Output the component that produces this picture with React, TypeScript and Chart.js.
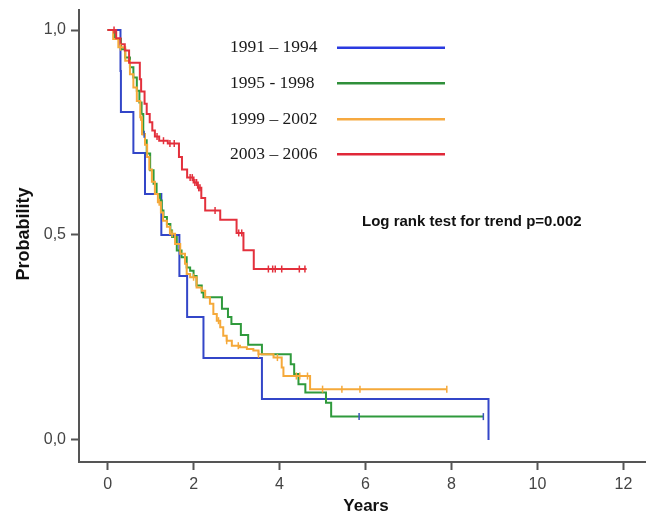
import React, { useEffect, useRef } from "react";
import { Chart, registerables } from "chart.js";

Chart.register(...registerables);

// ---- data ----
const seriesNames = ["1991 – 1994", "1995 - 1998", "1999 – 2002", "2003 – 2006"];
const seriesColors = ["#3346c8", "#2f9a3c", "#f5a93a", "#e3303c"];
const legendColors = ["#2a3ae0", "#2f8f3a", "#f6a940", "#e02838"];

const blueT = [0, 0.30, 0.31, 0.60, 0.87, 1.25, 1.67, 1.85, 2.23, 3.59, 8.86];
const blueS = [1, 0.9, 0.8, 0.7, 0.6, 0.5, 0.4, 0.3, 0.2, 0.1, 0];
const blueCensor: number[] = [];

const greenT = [0, 0.17, 0.31, 0.41, 0.52, 0.6, 0.68, 0.74, 0.79, 0.83, 0.87, 0.91, 0.99, 1.07, 1.14, 1.22, 1.26, 1.3, 1.38, 1.46, 1.5, 1.61, 1.72, 1.84, 1.92, 2.0, 2.07, 2.19, 2.23, 2.66, 2.8, 2.88, 3.1, 3.27, 3.59, 4.26, 4.34, 4.44, 4.6, 5.08, 5.2, 8.74];
const greenS = [1, 0.978, 0.953, 0.933, 0.909, 0.884, 0.852, 0.823, 0.795, 0.746, 0.731, 0.699, 0.658, 0.625, 0.6, 0.584, 0.56, 0.544, 0.527, 0.511, 0.495, 0.462, 0.446, 0.421, 0.413, 0.4, 0.377, 0.36, 0.348, 0.32, 0.3, 0.283, 0.256, 0.232, 0.209, 0.185, 0.161, 0.136, 0.116, 0.091, 0.057, 0.057];
const greenCensor = [0.85, 5.85, 8.74];

const orangeT = [0, 0.13, 0.25, 0.41, 0.52, 0.6, 0.68, 0.76, 0.8, 0.87, 0.92, 0.97, 1.03, 1.1, 1.17, 1.24, 1.29, 1.38, 1.45, 1.57, 1.69, 1.8, 1.84, 1.92, 2.07, 2.19, 2.27, 2.38, 2.46, 2.54, 2.62, 2.69, 2.77, 2.89, 3.08, 3.24, 3.39, 3.51, 3.86, 4.05, 4.09, 4.71, 7.89];
const orangeS = [1, 0.978, 0.958, 0.925, 0.892, 0.86, 0.827, 0.787, 0.746, 0.72, 0.69, 0.66, 0.63, 0.6, 0.58, 0.555, 0.535, 0.52, 0.503, 0.478, 0.454, 0.43, 0.405, 0.397, 0.372, 0.364, 0.348, 0.332, 0.307, 0.291, 0.275, 0.254, 0.242, 0.23, 0.226, 0.222, 0.218, 0.209, 0.201, 0.177, 0.156, 0.124, 0.124];
const orangeCensor = [0.3, 0.77, 1.2, 1.5, 2.0, 2.58, 2.77, 3.04, 3.51, 3.95, 4.39, 4.47, 4.65, 5.0, 5.45, 5.87, 7.89];

const redT = [0, 0.2, 0.3, 0.4, 0.5, 0.75, 0.78, 0.86, 0.91, 0.98, 1.04, 1.1, 1.2, 1.4, 1.66, 1.73, 1.85, 2.0, 2.1, 2.18, 2.27, 2.62, 3.0, 3.16, 3.4, 4.63];
const redS = [1, 0.98, 0.965, 0.95, 0.92, 0.88, 0.85, 0.82, 0.795, 0.775, 0.755, 0.74, 0.73, 0.723, 0.69, 0.66, 0.64, 0.628, 0.615, 0.59, 0.56, 0.537, 0.505, 0.463, 0.417, 0.417];
const redCensor = [0.15, 1.15, 1.3, 1.45, 1.55, 1.92, 1.97, 2.03, 2.07, 2.12, 2.15, 2.5, 3.05, 3.12, 3.74, 3.84, 3.9, 4.05, 4.46, 4.59];

const xTickValues = [0, 2, 4, 6, 8, 10, 12];
const yTickValues = [0, 0.5, 1];
const yTickLabels = ["0,0", "0,5", "1,0"];
const annotation = "Log rank test for trend p=0.002";
const xTitle = "Years";
const yTitle = "Probability";

const stepAt = (T: number[], S: number[], t: number) => {
  let v = S[0];
  for (let i = 0; i < T.length; i++) if (T[i] <= t) v = S[i];
  return v;
};

const series = [
  { T: blueT, S: blueS, C: blueCensor, censorColor: "#3346c8" },
  { T: greenT, S: greenS, C: greenCensor, censorColor: "#3a56b8" },
  { T: orangeT, S: orangeS, C: orangeCensor, censorColor: "#f5a93a" },
  { T: redT, S: redS, C: redCensor, censorColor: "#e3303c" },
];

export default function App() {
  const ref = useRef<HTMLCanvasElement | null>(null);

  useEffect(() => {
    const canvas = ref.current;
    if (!canvas) return;

    const datasets: any[] = [];
    series.forEach((s, i) => {
      datasets.push({
        type: "line",
        label: seriesNames[i],
        data: s.T.map((t, k) => ({ x: t, y: s.S[k] })),
        borderColor: seriesColors[i],
        borderWidth: 2,
        stepped: "before",
        pointRadius: 0,
        fill: false,
        order: i === 0 ? 5 : 4 - i,
      });
      datasets.push({
        type: "scatter",
        label: seriesNames[i] + " censored",
        data: s.C.map((t) => ({ x: t, y: stepAt(s.T, s.S, t) })),
        pointStyle: "line",
        rotation: 90,
        pointRadius: 3.5,
        borderColor: s.censorColor,
        backgroundColor: s.censorColor,
        borderWidth: 1.5,
        showLine: false,
        order: 0,
      });
    });

    const textPlugin = {
      id: "texts",
      afterDraw(chart: any) {
        const ctx = chart.ctx;
        ctx.save();
        // legend
        ctx.textBaseline = "middle";
        ctx.textAlign = "left";
        ctx.fillStyle = "#1a1a1a";
        ctx.font = '17.5px "Liberation Serif"';
        const ly = [47.7, 83.3, 119.3, 154.3];
        seriesNames.forEach((n, i) => {
          ctx.fillText(n, 230, ly[i]);
          ctx.strokeStyle = legendColors[i];
          ctx.lineWidth = 2.5;
          ctx.beginPath();
          ctx.moveTo(337, ly[i]);
          ctx.lineTo(445, ly[i]);
          ctx.stroke();
        });
        // annotation
        ctx.fillStyle = "#111";
        ctx.font = 'bold 15px "Liberation Sans"';
        ctx.fillText(annotation, 362, 222);
        // axis titles
        ctx.textAlign = "center";
        ctx.font = 'bold 17px "Liberation Sans"';
        ctx.fillText(xTitle, 366, 506);
        ctx.translate(24, 234);
        ctx.rotate(-Math.PI / 2);
        ctx.font = 'bold 18px "Liberation Sans"';
        ctx.fillText(yTitle, 0, 0);
        ctx.restore();
      },
    };

    const chart = new Chart(canvas, {
      type: "line",
      data: { datasets },
      options: {
        animation: false,
        responsive: false,
        events: [],
        layout: { autoPadding: false, padding: { top: 10, right: 2, left: 0, bottom: 0 } },
        plugins: { legend: { display: false }, tooltip: { enabled: false } },
        scales: {
          x: {
            type: "linear",
            min: -0.665,
            max: 12.5,
            afterFit: (s: any) => {
              s.height = 53;
              s.paddingLeft = 0;
              s.paddingRight = 0;
            },
            afterBuildTicks: (s: any) => {
              s.ticks = xTickValues.map((v) => ({ value: v }));
            },
            border: { display: true, color: "#555", width: 2 },
            grid: {
              drawOnChartArea: false,
              drawTicks: true,
              tickLength: 8,
              tickWidth: 2,
              tickColor: "#555",
            },
            ticks: {
              autoSkip: false,
              maxRotation: 0,
              padding: 5,
              color: "#444",
              font: { family: "Liberation Sans", size: 16 },
              callback: (v: any) => String(v),
            },
          },
          y: {
            type: "linear",
            min: -0.0537,
            max: 1.0488,
            afterFit: (s: any) => {
              s.width = 79;
              s.paddingTop = 0;
              s.paddingBottom = 0;
            },
            afterBuildTicks: (s: any) => {
              s.ticks = yTickValues.map((v) => ({ value: v }));
            },
            border: { display: true, color: "#555", width: 2 },
            grid: {
              drawOnChartArea: false,
              drawTicks: true,
              tickLength: 8,
              tickWidth: 2,
              tickColor: "#555",
            },
            ticks: {
              autoSkip: false,
              padding: 5,
              color: "#444",
              font: { family: "Liberation Sans", size: 16 },
              callback: (v: any) => {
                const i = yTickValues.indexOf(v);
                return i >= 0 ? yTickLabels[i] : "";
              },
            },
          },
        },
      },
      plugins: [textPlugin],
    });

    return () => chart.destroy();
  }, []);

  return (
    <div style={{ position: "absolute", left: 0, top: 0, width: 647, height: 515, background: "#fff" }}>
      <canvas ref={ref} width={647} height={515} style={{ display: "block", width: 647, height: 515 }} />
    </div>
  );
}
